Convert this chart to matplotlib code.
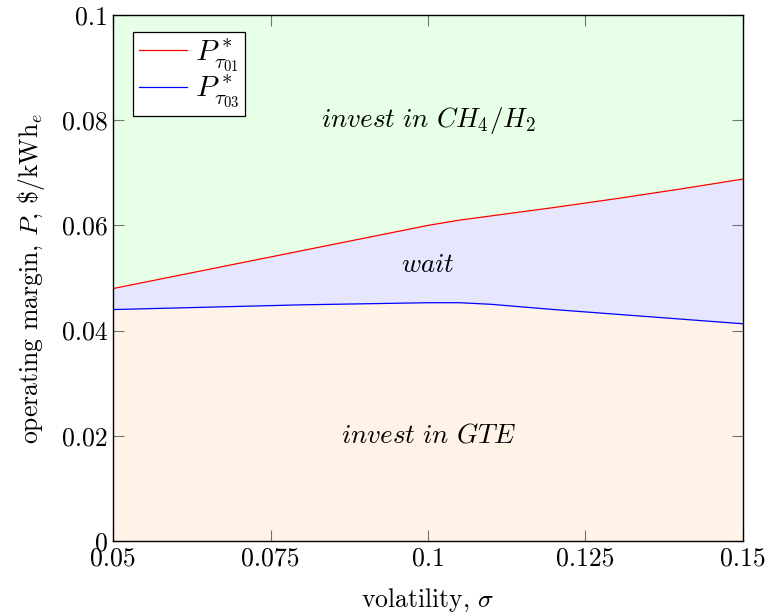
import matplotlib.pyplot as plt
import numpy as np

plt.rcParams.update({
    'font.family': 'serif',
    'font.serif': ['cmr10'],
    'mathtext.fontset': 'cm',
    'axes.formatter.use_mathtext': True,
    'font.size': 18.5,
})

# thresholds
sigma = [0.05, 0.06, 0.07, 0.08, 0.09, 0.10, 0.105, 0.11, 0.115, 0.12, 0.13, 0.14, 0.15]
p_tau01 = [0.0480, 0.0504, 0.0528, 0.0552, 0.0576, 0.0600, 0.0610, 0.0618, 0.0626, 0.0634,
           0.0651, 0.0669, 0.0688]
p_tau03 = [0.0440, 0.0443, 0.0446, 0.0449, 0.0451, 0.0453, 0.0453, 0.0450, 0.0445, 0.0440,
           0.0431, 0.0422, 0.0413]

xticks = [0.05, 0.075, 0.1, 0.125, 0.15]
xtick_labels = ['0.05', '0.075', '0.1', '0.125', '0.15']
yticks = [0, 0.02, 0.04, 0.06, 0.08, 0.1]
ytick_labels = ['0', '0.02', '0.04', '0.06', '0.08', '0.1']

fig = plt.figure(figsize=(7.69, 6.16), dpi=100)
ax = fig.add_axes([0.1473, 0.1218, 0.8185, 0.8538])

x = np.array(sigma)
lo = np.array(p_tau03)
hi = np.array(p_tau01)

ax.fill_between(x, 0, lo, color='#fff2e6', lw=0)
ax.fill_between(x, lo, hi, color='#e6e6ff', lw=0)
ax.fill_between(x, hi, 0.1, color='#e6ffe6', lw=0)

ax.plot(x, hi, color='red', lw=0.9, label=r'$P^*_{\tau_{01}}$')
ax.plot(x, lo, color='blue', lw=0.9, label=r'$P^*_{\tau_{03}}$')

ax.text(0.1, 0.080, r'$invest\ in\ CH_4/H_2$', ha='center', va='center', fontsize=19.5)
ax.text(0.1, 0.0525, r'$wait$', ha='center', va='center', fontsize=19.5)
ax.text(0.1, 0.020, r'$invest\ in\ GTE$', ha='center', va='center', fontsize=19.5)

ax.set_xlim(0.05, 0.15)
ax.set_ylim(0, 0.1)
ax.set_xticks(xticks)
ax.set_xticklabels(xtick_labels)
ax.set_yticks(yticks)
ax.set_yticklabels(ytick_labels)
ax.tick_params(direction='in', top=True, right=True, length=8, width=0.8,
               color='0.45', pad=4)
for s in ax.spines.values():
    s.set_linewidth(1.0)
    s.set_color('black')

ax.set_xlabel(r'volatility, $\sigma$', labelpad=12)
ax.set_ylabel(r'operating margin, $P$, \$/kWh$_e$', labelpad=11)

leg = ax.legend(loc='upper left', bbox_to_anchor=(0.032, 0.968), fancybox=False,
                framealpha=1, edgecolor='black', handlelength=1.6,
                handletextpad=0.25, borderpad=0.2, borderaxespad=0,
                labelspacing=0.0, fontsize=21.5)
leg.get_frame().set_linewidth(0.9)

fig.savefig('out.png', dpi=100)
